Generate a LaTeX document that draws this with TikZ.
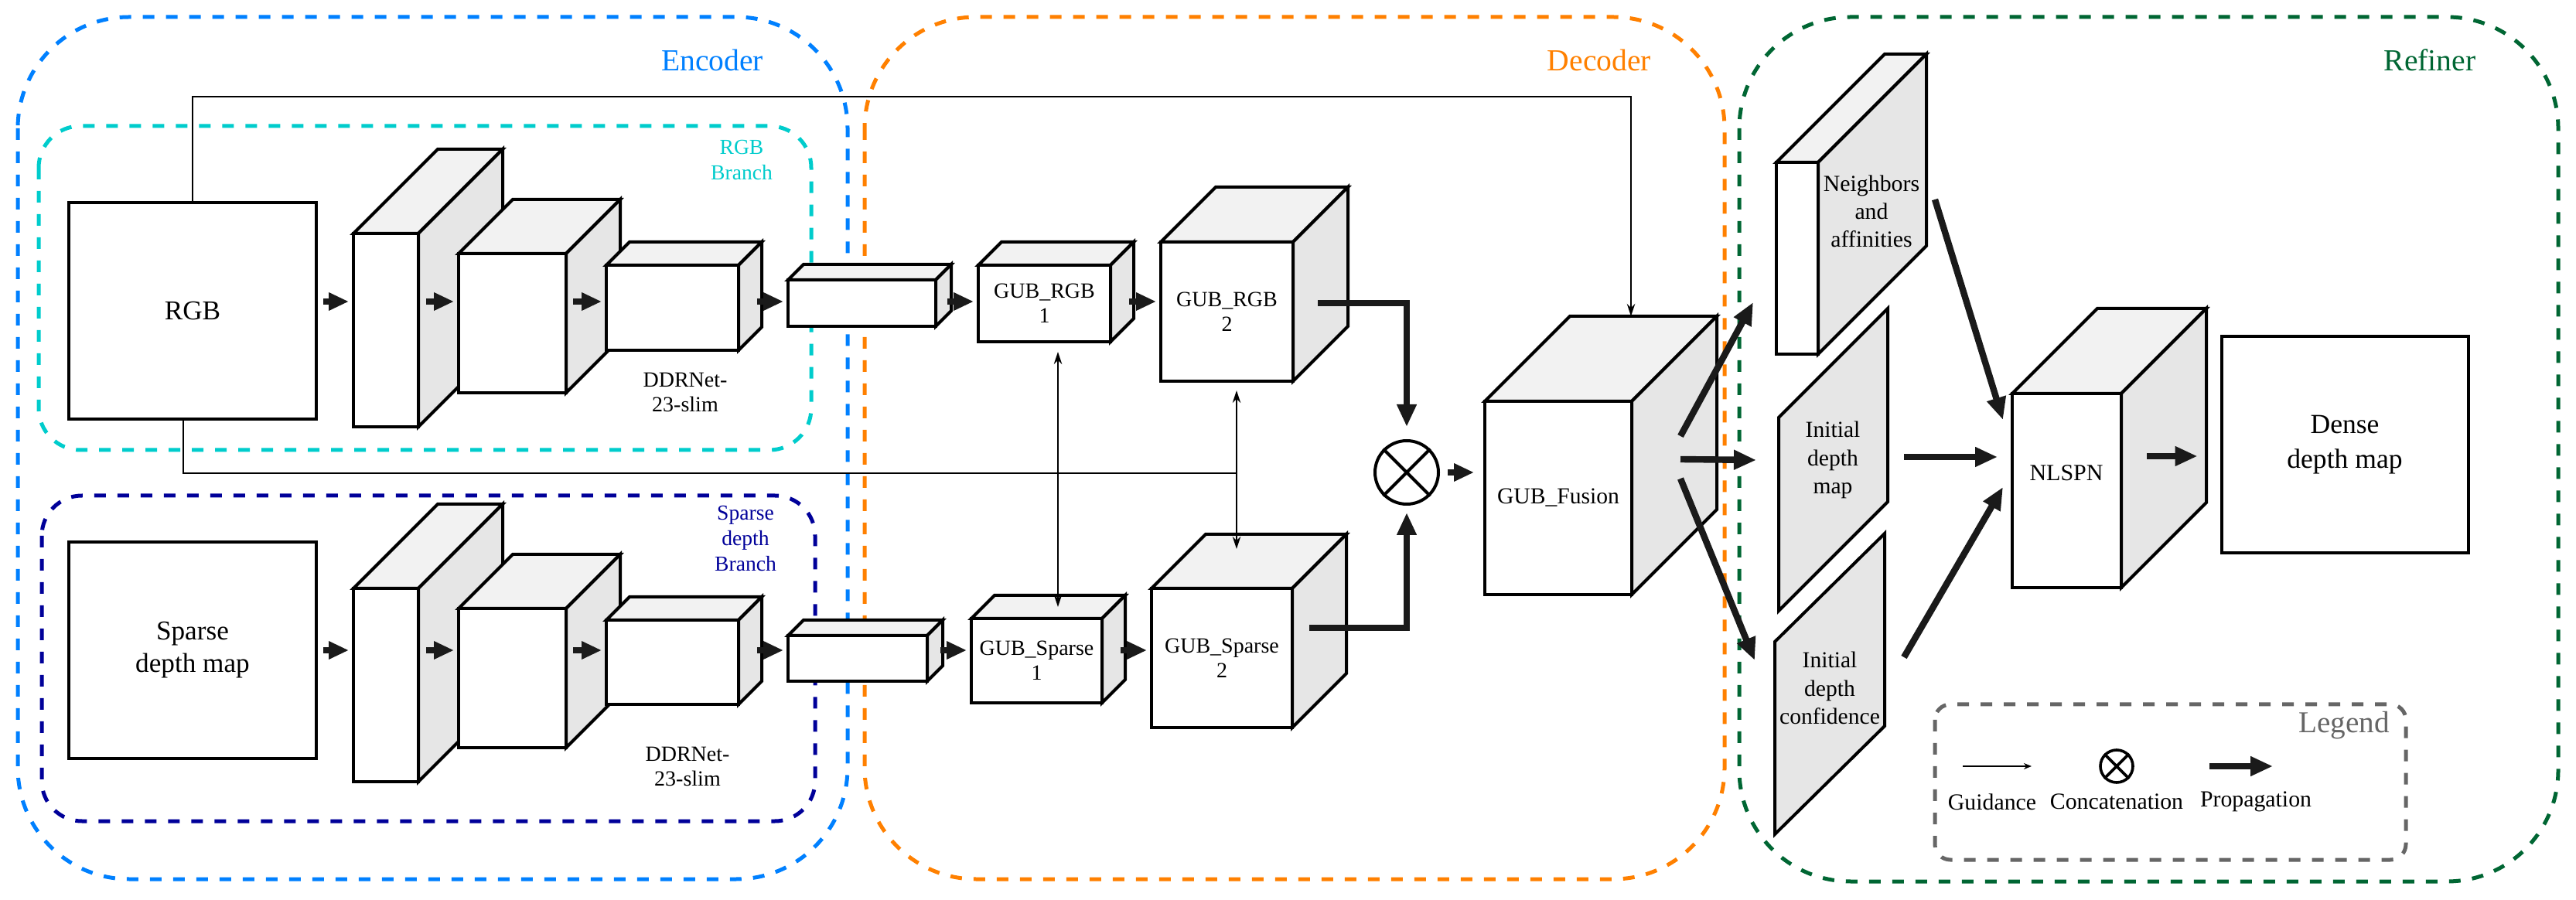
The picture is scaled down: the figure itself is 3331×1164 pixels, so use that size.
\documentclass[tikz,border=0pt]{standalone}
\usepackage{fontspec}
\setmainfont{Liberation Serif}
\usetikzlibrary{arrows.meta,calc}

\definecolor{encblue}{HTML}{0080FF}
\definecolor{rgbcyan}{HTML}{00CCCC}
\definecolor{sparsenavy}{HTML}{000099}
\definecolor{decorange}{HTML}{FF8000}
\definecolor{refgreen}{HTML}{006633}
\definecolor{legendgray}{HTML}{666666}
\definecolor{topgray}{HTML}{F2F2F2}
\definecolor{sidegray}{HTML}{E6E6E6}
\definecolor{arrowblack}{HTML}{1A1A1A}

\tikzset{
  group/.style={line width=1.25pt, dash pattern=on 3.75pt off 3.75pt, rounded corners=36pt},
  edge/.style={draw=black, line width=1pt, line join=miter},
  face/.style={edge, fill=white, inner sep=0pt, align=center},
  guide/.style={line width=0.6pt, -{Stealth[length=4pt,width=2.6pt]}},
  guidetwo/.style={line width=0.6pt, {Stealth[length=4pt,width=2.6pt]}-{Stealth[length=4pt,width=2.6pt]}},
  fwd/.style={line width=1.8pt, draw=arrowblack, -{Triangle[length=6.5pt,width=5.5pt]}},
  prop/.style={line width=2.1pt, draw=arrowblack, -{Triangle[length=7.25pt,width=6pt]}},
}

% feature cube: name, x, y (front top left), width, height, depth, text
\newcommand{\featcube}[7]{%
  \filldraw[edge, fill=topgray] (#2,#3) -- ++(#6,-#6) -- ++(#4,0) -- ++(-#6,#6) -- cycle;
  \filldraw[edge, fill=sidegray] ({#2+#4},#3) -- ++(#6,-#6) -- ++(0,#5) -- ++(-#6,#6) -- cycle;
  \node[face, minimum width={#4*0.25pt}, minimum height={#5*0.25pt}] (#1) at ({#2+#4/2},{#3+#5/2}) {#7};
  \coordinate (#1-top) at ({#2+#6+#4/2},{#3-#6});
  \coordinate (#1-tf) at ({#2+#6/2+#4/2},{#3-#6/2});
}
\newcommand{\grpfont}{\fontsize{9.9}{12}\selectfont}

\begin{document}
\begin{tikzpicture}[x=0.25pt, y=-0.25pt, font=\fontsize{7}{8}\selectfont]
\useasboundingbox (0,0) rectangle (3331,1164);

% groups
\draw[group, draw=encblue] (23,22) rectangle (1096,1137);
\draw[group, draw=decorange] (1118,22) rectangle (2230,1137);
\draw[group, draw=refgreen] (2249,22) rectangle (3308,1140);
\draw[group, draw=rgbcyan, rounded corners=13.5pt] (50,163) rectangle (1049,582);
\draw[group, draw=sparsenavy, rounded corners=13pt] (54,641) rectangle (1054,1062);
\draw[group, draw=legendgray, rounded corners=5pt] (2502,911) rectangle (3111,1112);

\node[text=encblue, font=\grpfont] (enc) at (921,78) {Encoder};
\node[text=decorange, font=\grpfont] (dec) at (2068,78) {Decoder};
\node[text=refgreen, font=\grpfont] (ref) at (3142,78) {Refiner};
\node[text=rgbcyan, font=\fontsize{6.9}{8.25}\selectfont, align=center] (rgblab) at (959,207) {RGB\\Branch};
\node[text=sparsenavy, font=\fontsize{6.9}{8.25}\selectfont, align=center] (sparselab) at (964,696) {Sparse\\depth\\Branch};

% inputs
\node[face, minimum width=80pt, minimum height=70pt, font=\fontsize{8.8}{10.5}\selectfont] (rgb) at (249,402) {RGB};
\node[face, minimum width=80pt, minimum height=70pt, font=\fontsize{8.8}{10.5}\selectfont] (sparse) at (249,841) {Sparse\\depth map};

% encoder
\featcube{rc1}{457}{302}{84}{250}{109}{}
\featcube{rc2}{593}{328}{139}{180}{70}{}
\featcube{rc3}{784}{343}{171}{110}{30}{}
\featcube{rc4}{1019}{362}{191}{60}{20}{}
\featcube{sc1}{457}{761}{84}{250}{109}{}
\featcube{sc2}{593}{787}{139}{180}{70}{}
\featcube{sc3}{784}{802}{171}{109}{30}{}
\featcube{sc4}{1019}{822}{180}{59}{20}{}
\node[align=center] (rddr) at (886,507) {DDRNet-\\23-slim};
\node[align=center] (sddr) at (889,991) {DDRNet-\\23-slim};

% decoder
\featcube{gr1}{1265}{343}{171}{99}{30}{GUB\_RGB\\1}
\featcube{gr2}{1501}{313}{171}{180}{71}{GUB\_RGB\\2}
\featcube{gs1}{1256}{800}{169}{109}{30}{GUB\_Sparse\\1}
\featcube{gs2}{1489}{761}{182}{180}{70}{GUB\_Sparse\\2}
\featcube{fus}{1920}{519}{190}{250}{110}{\fontsize{7.4}{9}\selectfont GUB\_Fusion}
\node[draw, circle, line width=1pt, minimum size=20.5pt, inner sep=0pt] (cat) at (1819,611) {};
\draw[line width=1pt] (cat.north west) -- (cat.south east) (cat.north east) -- (cat.south west);

% refiner
\featcube{nbr}{2297}{210}{54}{248}{140}{}
\node[align=center, font=\fontsize{7.45}{9}\selectfont] (nbrl) at (2420,273) {Neighbors\\and\\affinities};
\filldraw[edge, fill=sidegray] (2300,540) -- (2441,399) -- (2441,649) -- (2300,790) -- cycle;
\coordinate (map) at (2300,665);
\node[align=center, font=\fontsize{7.4}{9.1}\selectfont] (mapl) at (2370,595) {Initial\\depth\\map};
\filldraw[edge, fill=sidegray] (2295,830) -- (2437,690) -- (2437,939) -- (2295,1079) -- cycle;
\coordinate (conf) at (2295,955);
\node[align=center, font=\fontsize{7.4}{9.1}\selectfont] (confl) at (2366,890) {Initial\\depth\\confidence};
\featcube{nl}{2602}{509}{141}{251}{110}{}
\node[font=\fontsize{7.5}{9}\selectfont] (nllab) at (2672,612) {NLSPN};
\node[face, minimum width=79.75pt, minimum height=70pt, font=\fontsize{8.9}{11.25}\selectfont] (dense) at (3032,575) {Dense\\depth map};

% step arrows
\coordinate (rowr) at (0,390);
\coordinate (rows) at (0,841);
\foreach \a/\b/\s in {rgb/rc1/1.75pt, rc1/rc2/2pt, rc2/rc3/1.75pt, rc3/rc4/5.5pt, rc4/gr1/3.25pt, gr1/gr2/5.5pt}
  \draw[fwd, shorten <=\s, shorten >=1pt] (\a.east |- rowr) -- (\b.west |- rowr);
\foreach \a/\b/\s in {sparse/sc1/1.75pt, sc1/sc2/2pt, sc2/sc3/1.75pt, sc3/sc4/5.5pt, sc4/gs1/3.75pt, gs1/gs2/5.5pt}
  \draw[fwd, shorten <=\s, shorten >=1pt] (\a.east |- rows) -- (\b.west |- rows);

% guidance
\coordinate (gcol1) at (1368,612);
\coordinate (gcol2) at (1599,612);
\draw[guide] (rgb.north) -- ++(0,-135) -| ([xshift=-4pt]fus-top);
\draw[line width=0.6pt] ([xshift=-3pt]rgb.south) |- (gcol2);
\draw[guidetwo, shorten <=2.75pt] (gr1.south -| gcol1) -- (gs1-tf -| gcol1);
\draw[guidetwo, shorten <=2.5pt, shorten >=4pt] (gr2.south -| gcol2) -- (gs2-tf -| gcol2);

% propagation
\draw[prop, shorten >=4pt] ([xshift=7.5pt,yshift=2.75pt]gr2.east) -| (cat.north);
\draw[prop, shorten >=2.25pt] ([xshift=5pt,yshift=9.75pt]gs2.east) -| (cat.south);
\draw[fwd, shorten <=2.5pt, shorten >=3pt] (cat.east) -- (cat.east -| fus.west);
\draw[prop] ($(fus.east)+(61,-80)$) -- ($(nbr.west)+(-28,57)$);
\draw[prop] ($(fus.east)+(61,-50)$) -- ($(map)+(-29,-70)$);
\draw[prop] ($(fus.east)+(61,-25)$) -- ($(conf)+(-26,-101)$);
\draw[prop] ($(nbr.east)+(149,-76)$) -- ($(nl.west)+(-10,-91.5)$);
\draw[prop] ($(map)+(162,-74)$) -- ($(nl.west)+(-17,-43.5)$);
\draw[prop] ($(conf)+(167,-105)$) -- ($(nl.west)+(-10,-4.5)$);
\draw[prop] ($(nl.east)+(31,-44.5)$) -- ($(dense.west)+(-29,15)$);

% legend
\node[text=legendgray, font=\fontsize{9.8}{12}\selectfont] (lgdlab) at (3031,938) {Legend};
\node[font=\fontsize{7.45}{9}\selectfont] (lgdg) at (2576,1037) {Guidance};
\node[font=\fontsize{7.45}{9}\selectfont] (lgdc) at (2737,1037) {Concatenation};
\node[font=\fontsize{7.45}{9}\selectfont] (lgdp) at (2917,1037) {Propagation};
\coordinate (lgda) at (2538,991);
\coordinate (lgdb) at (2857,991);
\draw[line width=0.4pt, -{Stealth[length=2.5pt,width=2pt]}] (lgda) -- ++(89,0);
\node[draw, circle, line width=0.9pt, minimum size=10.5pt, inner sep=0pt] (lgdcat) at (2737,991) {};
\draw[line width=0.9pt] (lgdcat.north west) -- (lgdcat.south east) (lgdcat.north east) -- (lgdcat.south west);
\draw[prop] (lgdb) -- ++(82,0);

\end{tikzpicture}
\end{document}
